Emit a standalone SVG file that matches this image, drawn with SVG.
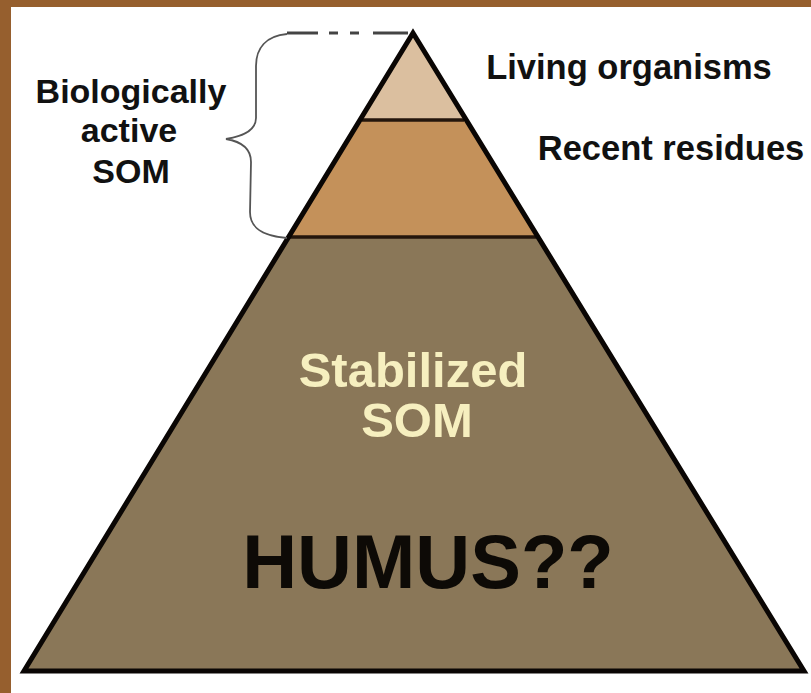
<svg xmlns="http://www.w3.org/2000/svg" width="811" height="693" viewBox="0 0 811 693">
<style>
.lbl{font-family:"Liberation Sans",Arial,sans-serif;font-weight:bold;fill:#111;text-anchor:middle}
.out{fill:none;stroke:#0a0604;stroke-width:5;stroke-linejoin:miter}
.sep{stroke:#24160c;stroke-width:3.5}
.brace{fill:none;stroke:#555;stroke-width:1.8}
.dash{fill:none;stroke:#444;stroke-width:3}
</style>
<rect x="0" y="0" width="811" height="693" fill="#ffffff"/>
<g id="frame">
<rect x="0" y="0" width="811" height="7" fill="#965f2e"/>
<rect x="0" y="0" width="11" height="693" fill="#965f2e"/>
</g>
<g id="tier-stabilized">
<polygon points="288,237 538,237 804,671 24,671" fill="#8a7758"/>
</g>
<g id="tier-residues">
<polygon points="360,121 466,121 538,237 288,237" fill="#c4915a"/>
</g>
<g id="tier-living">
<polygon points="413,35 466,121 360,121" fill="#dbbf9f"/>
</g>
<g id="outline">
<line class="sep" x1="362" y1="120" x2="464" y2="120"/>
<line class="sep" x1="290" y1="237" x2="536" y2="237"/>
<polygon class="out" points="413,33 804,671 24,671"/>
</g>
<g id="connectors">
<path class="brace" d="M287,34 C266,36 256,48 256,66 L256,118 C256,130 244,136 226,139 C244,142 251,150 251,162 L250,212 C250,228 262,236 287,238"/>
<line class="dash" x1="287" y1="33" x2="318" y2="33"/>
<line class="dash" x1="329" y1="33" x2="338" y2="33"/>
<line class="dash" x1="350" y1="33" x2="359" y2="33"/>
<line class="dash" x1="373" y1="33" x2="408" y2="33"/>
</g>
<g id="label-bio">
<text class="lbl" x="131" y="103" font-size="34">Biologically</text>
<text class="lbl" x="129" y="142" font-size="34">active</text>
<text class="lbl" x="131" y="183" font-size="34">SOM</text>
</g>
<g id="label-living">
<text class="lbl" x="629" y="79" font-size="34.5">Living organisms</text>
</g>
<g id="label-recent">
<text class="lbl" x="671" y="160" font-size="34.5">Recent residues</text>
</g>
<g id="label-stabilized">
<text class="lbl" x="413" y="387" font-size="49" style="fill:#f6efbf">Stabilized</text>
<text class="lbl" x="417" y="437" font-size="49" style="fill:#f6efbf">SOM</text>
</g>
<g id="label-humus">
<text class="lbl" x="428" y="588" font-size="76" style="fill:#0d0a06">HUMUS??</text>
</g>
</svg>
